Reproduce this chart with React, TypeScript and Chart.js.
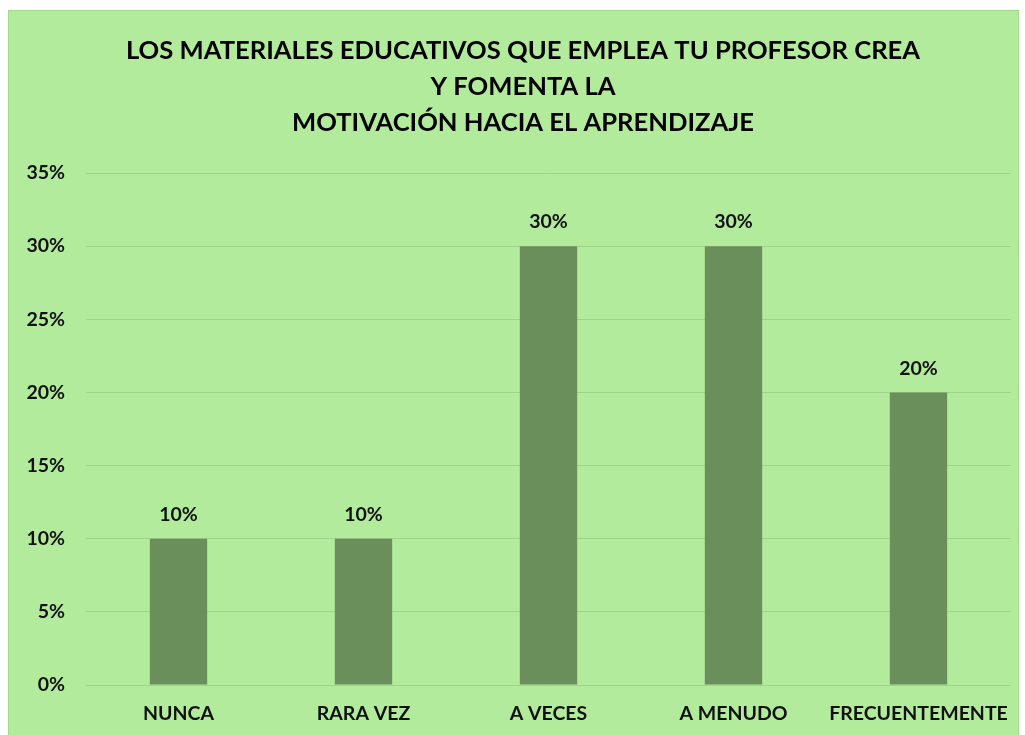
import React, { useEffect, useRef } from "react";
import { Chart, registerables } from "chart.js";

Chart.register(...registerables);

const categories = ["NUNCA", "RARA VEZ", "A VECES", "A MENUDO", "FRECUENTEMENTE"];
const values = [0.1, 0.1, 0.3, 0.3, 0.2];
const titleLines = [
  "LOS MATERIALES EDUCATIVOS QUE EMPLEA TU PROFESOR CREA",
  "Y FOMENTA LA",
  "MOTIVACIÓN HACIA EL APRENDIZAJE",
];
const yMax = 0.35;
const yStep = 0.05;

const FONT = "Lato, 'Open Sans', sans-serif";
const TITLE_SIZE = 25.6;
const LABEL_SIZE = 19.5;

const dataLabels = {
  id: "dataLabels",
  afterDatasetsDraw(chart: any) {
    const ctx = chart.ctx;
    const meta = chart.getDatasetMeta(0);
    ctx.save();
    ctx.font = `bold ${LABEL_SIZE}px ${FONT}`;
    ctx.fillStyle = "#111111";
    ctx.textAlign = "center";
    ctx.textBaseline = "middle";
    meta.data.forEach((bar: any, i: number) => {
      const v = chart.data.datasets[0].data[i] as number;
      ctx.fillText(Math.round(v * 100) + "%", bar.x, bar.y - 24);
    });
    ctx.restore();
  },
};

const titleShift = {
  id: "titleShift",
  afterLayout(chart: any) {
    const t = chart.titleBlock;
    if (t) t.left = t.left + 26;
  },
};

export default function App() {
  const ref = useRef<HTMLCanvasElement>(null);
  useEffect(() => {
    if (!ref.current) return;
    const chart = new Chart(ref.current, {
      type: "bar",
      data: {
        labels: categories,
        datasets: [
          {
            data: values,
            backgroundColor: "#6b8f5b",
            borderWidth: 0,
            categoryPercentage: 1,
            barPercentage: 0.31,
          },
        ],
      },
      options: {
        animation: false,
        responsive: false,
        maintainAspectRatio: false,
        layout: { padding: { left: 0, right: 7, top: 0, bottom: 0 } },
        plugins: {
          legend: { display: false },
          tooltip: { enabled: false },
          title: {
            display: true,
            text: titleLines,
            color: "#000000",
            font: { family: FONT, size: TITLE_SIZE, weight: "bold", lineHeight: 36 / TITLE_SIZE },
            padding: { top: 22, bottom: 32 },
          },
        },
        scales: {
          x: {
            afterFit(scale: any) {
              scale.height = 51;
              scale.paddingLeft = 0;
              scale.paddingRight = 0;
            },
            grid: { display: false, drawTicks: false },
            border: { display: false },
            ticks: {
              color: "#111111",
              font: { family: FONT, size: LABEL_SIZE, weight: "bold" },
              padding: 17,
              maxRotation: 0,
              autoSkip: false,
            },
          },
          y: {
            min: 0,
            max: yMax,
            afterFit(scale: any) {
              scale.width = 77;
            },
            grid: { color: "#9fd28b", lineWidth: 1, drawTicks: false },
            border: { display: false },
            ticks: {
              stepSize: yStep,
              color: "#111111",
              font: { family: FONT, size: LABEL_SIZE, weight: "bold" },
              padding: 21,
              callback: (v: any) => Math.round(Number(v) * 100) + "%",
            },
          },
        },
      },
      plugins: [dataLabels, titleShift],
    });
    return () => chart.destroy();
  }, []);
  return (
    <div
      style={{
        position: "absolute",
        left: 8,
        top: 10,
        width: 1011,
        height: 730,
        background: "#b3eb9d",
        border: "1px solid #a2d98e",
        boxSizing: "border-box",
      }}
    >
      <canvas ref={ref} width={1009} height={725} style={{ display: "block" }} />
    </div>
  );
}
